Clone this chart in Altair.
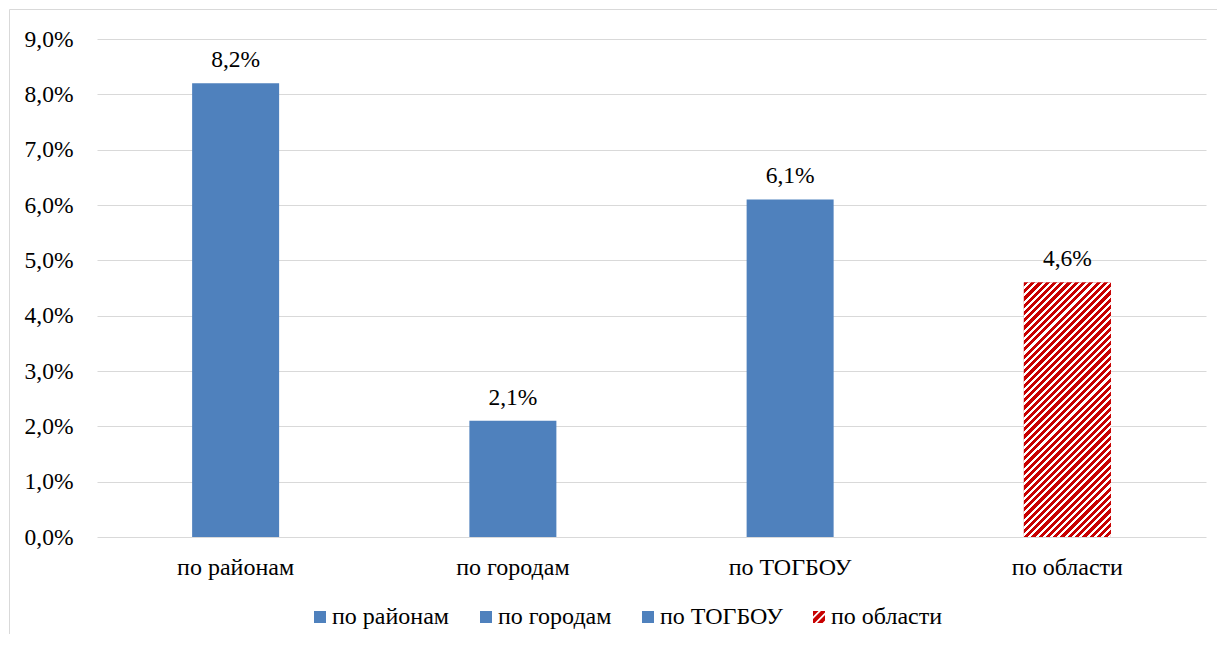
import altair as alt
import pandas as pd

# ---- data ----
categories = ["по районам", "по городам", "по ТОГБОУ", "по области"]
values = [8.2, 2.1, 6.1, 4.6]
value_labels = ["8,2%", "2,1%", "6,1%", "4,6%"]
y_ticks = [0, 1, 2, 3, 4, 5, 6, 7, 8, 9]

df = pd.DataFrame({"cat": categories, "val": values, "lab": value_labels})

FONT = "Liberation Serif"
FS_NUM = 23.5
FS_TXT = 24
BLUE = "#4F81BD"
RED = "#C80000"
GRID = "#D9D9D9"
TXT = "#000000"
RED_SHARE = 0.58

# diagonal red/white hatch as a hard-stop linear gradient
N = 47
stops = []
for k in range(N):
    a = k / N
    m = (k + RED_SHARE) / N
    b = (k + 1) / N
    stops += [
        alt.GradientStop(offset=a, color=RED),
        alt.GradientStop(offset=m, color=RED),
        alt.GradientStop(offset=m, color="#FFFFFF"),
        alt.GradientStop(offset=b, color="#FFFFFF"),
    ]
hatch_fill = alt.LinearGradient(gradient="linear", stops=stops, x1=0, y1=0, x2=0.4106, y2=1.2014)


# legend symbol shapes: plain square and a striped square (unit box -1..1)
def clip(poly, a, b, c):
    out = []
    n = len(poly)
    for i in range(n):
        p, q = poly[i], poly[(i + 1) % n]
        fp = a * p[0] + b * p[1] - c
        fq = a * q[0] + b * q[1] - c
        if fp <= 0:
            out.append(p)
        if (fp < 0 < fq) or (fq < 0 < fp):
            t = fp / (fp - fq)
            out.append((p[0] + t * (q[0] - p[0]), p[1] + t * (q[1] - p[1])))
    return out


SQUARE = [(-1, -1), (1, -1), (1, 1), (-1, 1)]
square_path = "M-1,-1L1,-1L1,1L-1,1Z"
period = 4 / 3
parts = []
c0 = -2.0
while c0 < 2:
    poly = clip(SQUARE, -1, -1, -c0)
    poly = clip(poly, 1, 1, c0 + period * 0.7)
    if len(poly) >= 3:
        parts.append("M" + "L".join(f"{x:.3f},{y:.3f}" for x, y in poly) + "Z")
    c0 += period
striped_path = "".join(parts)

x_enc = alt.X(
    "cat:N",
    sort=categories,
    scale=alt.Scale(paddingInner=0, paddingOuter=0),
    axis=alt.Axis(
        title=None, labelAngle=0, ticks=False, tickSize=0, domain=False,
        labelPadding=18, labelFont=FONT, labelFontSize=FS_TXT, labelColor=TXT,
    ),
)
y_enc = alt.Y(
    "val:Q",
    scale=alt.Scale(domain=[0, 9], nice=False, zero=True),
    axis=alt.Axis(
        title=None, values=y_ticks, ticks=False, tickSize=0, domain=False,
        labelExpr="replace(format(datum.value, '.1f'), '.', ',') + '%'",
        labelPadding=24, labelFont=FONT, labelFontSize=FS_NUM, labelColor=TXT,
        grid=True, gridColor=GRID, gridWidth=1,
    ),
)
color_scale = alt.Scale(domain=categories, range=[BLUE, BLUE, BLUE, RED])
shape_scale = alt.Scale(domain=categories, range=[square_path, square_path, square_path, striped_path])


def make_legend():
    return alt.Legend(
        title=None, orient="none", legendX=211, legendY=566,
        direction="horizontal", symbolSize=144, symbolOpacity=1,
        symbolStrokeWidth=0, labelFont=FONT, labelFontSize=FS_TXT,
        labelColor=TXT, labelOffset=0, columnPadding=24, padding=0,
    )


base = alt.Chart(df)

frame = alt.Chart(pd.DataFrame({"f": [0]})).mark_rect(
    fill="transparent", stroke=GRID, strokeWidth=1
).encode(
    x=alt.value(-87.5), x2=alt.value(1300), y=alt.value(-29.5), y2=alt.value(800)
)

bars = base.mark_bar(size=87).encode(
    x=x_enc,
    y=y_enc,
    color=alt.Color("cat:N", sort=categories, scale=color_scale, legend=make_legend()),
)

hatch = base.transform_filter(alt.datum.cat == "по области").mark_bar(
    size=87, fill=hatch_fill, strokeWidth=0
).encode(x=alt.X("cat:N", sort=categories), y=alt.Y("val:Q"))

legend_pts = base.mark_point(filled=True, size=0, opacity=1, strokeWidth=0).encode(
    x=alt.X("cat:N", sort=categories),
    y=alt.Y("val:Q"),
    color=alt.Color("cat:N", sort=categories, scale=color_scale, legend=make_legend()),
    shape=alt.Shape("cat:N", sort=categories, scale=shape_scale, legend=make_legend()),
)

text = base.mark_text(
    dy=-16, baseline="alphabetic", font=FONT, fontSize=FS_NUM, color=TXT
).encode(x=alt.X("cat:N", sort=categories), y=alt.Y("val:Q"), text="lab:N")

chart = alt.layer(frame, bars, hatch, legend_pts, text).properties(
    width=1109,
    height=498,
    autosize=alt.AutoSizeParams(type="none"),
    padding={"left": 89, "top": 31, "right": 11, "bottom": 97},
).configure(background="white", font=FONT).configure_view(stroke=None).configure_legend(
    labelFont=FONT
).configure_text(font=FONT)

chart.save("out.html", embed_options={"renderer": "svg", "actions": False})
